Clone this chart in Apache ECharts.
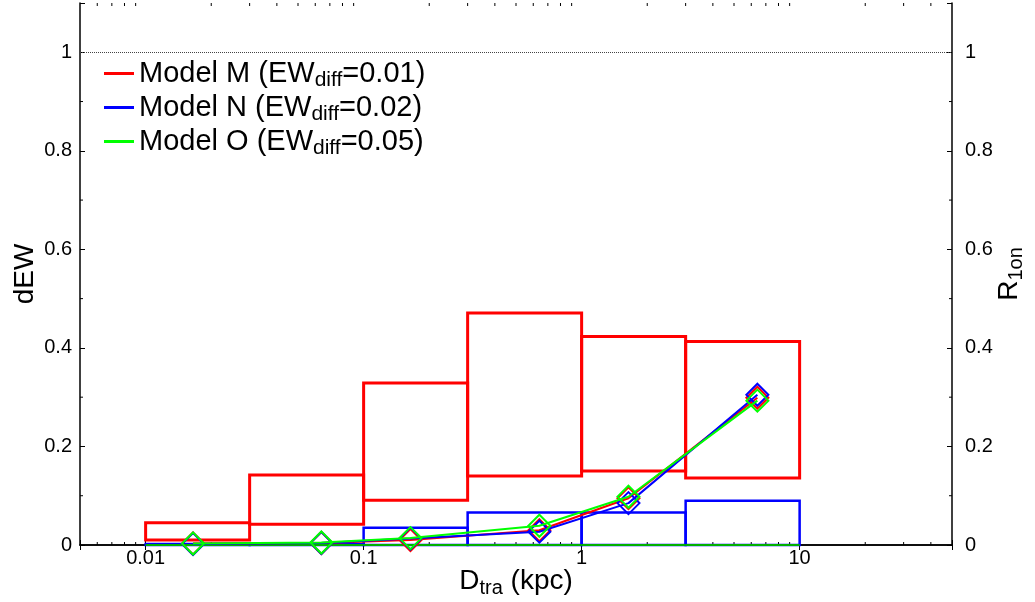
<!DOCTYPE html>
<html>
<head>
<meta charset="utf-8">
<script src="https://cdn.jsdelivr.net/npm/echarts@6/dist/echarts.min.js"></script>
<style>
  html, body { margin: 0; padding: 0; background: #fff; }
  #chart { width: 1035px; height: 602px; }
</style>
</head>
<body>
<div id="chart"></div>
<script>
// bins (kpc)
const binLo = [0.01, 0.03, 0.1, 0.3, 1, 3]
const binHi = [0.03, 0.1, 0.3, 1, 3, 10]

// dEW range boxes per model
const boxMLo = [0.010, 0.042, 0.091, 0.140, 0.150, 0.136]
const boxMHi = [0.045, 0.142, 0.329, 0.471, 0.423, 0.413]
const boxNLo = [0, 0, 0, 0, 0, 0]
const boxNHi = [0.002, 0.002, 0.035, 0.066, 0.066, 0.090]
const boxOLo = [0, 0, 0, 0, 0, 0]
const boxOHi = [0, 0, 0, 0, 0, 0]

// R_1on curves
const xMean = [0.0165, 0.064, 0.164, 0.64, 1.64, 6.4]
const modelM = [0.003, 0.004, 0.010, 0.030, 0.095, 0.299]
const modelN = [0.002, 0.004, 0.013, 0.027, 0.085, 0.305]
const modelO = [0.003, 0.005, 0.014, 0.039, 0.098, 0.293]

const modelNames = ['Model M', 'Model N', 'Model O']
const ewDiff = ['0.01', '0.02', '0.05']
const colors = ['#ff0000', '#0000ff', '#00ff00']

const xTicks = [0.01, 0.1, 1, 10]
const xTickLabels = ['0.01', '0.1', '1', '10']
const xMinorTicks = [0.006, 0.007, 0.008, 0.009,
  0.02, 0.03, 0.04, 0.05, 0.06, 0.07, 0.08, 0.09,
  0.2, 0.3, 0.4, 0.5, 0.6, 0.7, 0.8, 0.9,
  2, 3, 4, 5, 6, 7, 8, 9,
  20, 30, 40]
const yTickLabels = ['0', '0.2', '0.4', '0.6', '0.8', '1']
const yMinorTicks = [0.1, 0.3, 0.5, 0.7, 0.9]

const X_MIN = 0.005, X_MAX = 50, Y_MIN = 0, Y_MAX = 1.1
const FONT = '"Liberation Sans", Arial, Helvetica, sans-serif'

const chart = echarts.init(document.getElementById('chart'), null, { renderer: 'canvas' })

function boxData(lo, hi) {
  return binLo.map((b, i) => [b, binHi[i], lo[i], hi[i]])
}

function boxSeries(lo, hi, color, width) {
  return {
    type: 'custom',
    silent: true,
    z: 3,
    encode: { x: [0, 1], y: [2, 3] },
    data: boxData(lo, hi),
    renderItem: (params, api) => {
      const p0 = api.coord([api.value(0), api.value(2)])
      const p1 = api.coord([api.value(1), api.value(3)])
      return {
        type: 'rect',
        shape: { x: p0[0], y: p1[1], width: p1[0] - p0[0], height: p0[1] - p1[1] },
        style: { fill: 'none', stroke: color, lineWidth: width },
      }
    },
  }
}

function lineSeries(idx, values, width) {
  return {
    name: modelNames[idx],
    type: 'line',
    z: 5 + idx,
    data: xMean.map((x, i) => [x, values[i]]),
    symbol: 'diamond',
    symbolSize: 22,
    lineStyle: { color: colors[idx], width: width },
    itemStyle: { color: 'rgba(0,0,0,0)', borderColor: colors[idx], borderWidth: 2 },
    emphasis: { disabled: true },
  }
}

const tickStyle = { stroke: '#000', lineWidth: 1 }

const xMinorSeries = {
  type: 'custom',
  silent: true,
  z: 1,
  data: xMinorTicks.map((v) => [v, 0]),
  encode: { x: 0, y: 1 },
  renderItem: (params, api) => {
    const v = api.value(0)
    const b = api.coord([v, Y_MIN])
    const t = api.coord([v, Y_MAX])
    return {
      type: 'group',
      children: [
        { type: 'line', shape: { x1: b[0], y1: b[1], x2: b[0], y2: b[1] - 3 }, style: tickStyle },
        { type: 'line', shape: { x1: t[0], y1: t[1], x2: t[0], y2: t[1] + 3 }, style: tickStyle },
      ],
    }
  },
}

const yMinorSeries = {
  type: 'custom',
  silent: true,
  z: 1,
  data: yMinorTicks.map((v) => [1, v]),
  encode: { x: 0, y: 1 },
  renderItem: (params, api) => {
    const v = api.value(1)
    const l = api.coord([X_MIN, v])
    const r = api.coord([X_MAX, v])
    return {
      type: 'group',
      children: [
        { type: 'line', shape: { x1: l[0], y1: l[1], x2: l[0] + 3, y2: l[1] }, style: tickStyle },
        { type: 'line', shape: { x1: r[0], y1: r[1], x2: r[0] - 3, y2: r[1] }, style: tickStyle },
      ],
    }
  },
}

function xLabel(v) {
  const i = xTicks.findIndex((t) => Math.abs(Math.log10(v) - Math.log10(t)) < 1e-6)
  return i >= 0 ? xTickLabels[i] : ''
}

function yLabel(v) {
  const i = Math.round(v / 0.2)
  return Math.abs(v - i * 0.2) < 1e-6 && i < yTickLabels.length ? yTickLabels[i] : ''
}

const axisLine = { lineStyle: { color: '#000', width: 1.5 } }
const majorTick = { inside: true, length: 5, lineStyle: { color: '#000', width: 1 } }
const labelStyle = { color: '#000', fontSize: 20, fontFamily: FONT }
const nameRich = {
  n: { fontSize: 28, fontFamily: FONT, color: '#000', lineHeight: 34 },
  s: { fontSize: 20, fontFamily: FONT, color: '#000', lineHeight: 14, verticalAlign: 'bottom' },
}

const option = {
  animation: false,
  backgroundColor: '#fff',
  grid: { left: 80, right: 83, top: 3, bottom: 57, containLabel: false, outerBoundsMode: 'none' },
  legend: {
    orient: 'vertical',
    left: 104,
    top: 59,
    padding: 0,
    itemGap: 2.5,
    itemWidth: 30,
    itemHeight: 3,
    icon: 'rect',
    selectedMode: false,
    data: modelNames.map((name, i) => ({ name, itemStyle: { color: colors[i], borderWidth: 0 } })),
    formatter: (name) => {
      const i = modelNames.indexOf(name)
      return `{n|${name} (EW}{s|diff}{n|=${ewDiff[i]})}`
    },
    textStyle: {
      rich: {
        n: { fontSize: 29, fontFamily: FONT, color: '#000', lineHeight: 34 },
        s: { fontSize: 21, fontFamily: FONT, color: '#000', lineHeight: 14, verticalAlign: 'bottom' },
      },
    },
  },
  xAxis: [
    {
      type: 'log',
      logBase: 10,
      min: X_MIN,
      max: X_MAX,
      position: 'bottom',
      axisLine,
      axisTick: majorTick,
      axisLabel: { ...labelStyle, margin: 3, formatter: xLabel },
      splitLine: { show: false },
      name: '{n|D}{s|tra}{n| (kpc)}',
      nameLocation: 'middle',
      nameGap: 19,
      nameMoveOverlap: false,
      nameTextStyle: { rich: nameRich },
    },
    {
      type: 'log',
      logBase: 10,
      min: X_MIN,
      max: X_MAX,
      position: 'top',
      axisLine,
      axisTick: majorTick,
      axisLabel: { show: false },
      splitLine: { show: false },
    },
  ],
  yAxis: [
    {
      type: 'value',
      min: Y_MIN,
      max: Y_MAX,
      interval: 0.2,
      position: 'left',
      axisLine: { show: true, ...axisLine },
      axisTick: majorTick,
      axisLabel: { ...labelStyle, margin: 8, formatter: yLabel },
      splitLine: { show: false },
      name: '{n|dEW}',
      nameLocation: 'middle',
      nameRotate: 90,
      nameGap: 38,
      nameMoveOverlap: false,
      nameTextStyle: { rich: nameRich },
    },
    {
      type: 'value',
      min: Y_MIN,
      max: Y_MAX,
      interval: 0.2,
      position: 'right',
      axisLine: { show: true, ...axisLine },
      axisTick: majorTick,
      axisLabel: { ...labelStyle, margin: 13, formatter: yLabel },
      splitLine: { show: false },
      name: '{n|R}{s|1on}',
      nameLocation: 'middle',
      nameRotate: 90,
      nameGap: 40,
      nameMoveOverlap: false,
      nameTextStyle: { rich: nameRich },
    },
  ],
  series: [
    xMinorSeries,
    yMinorSeries,
    boxSeries(boxMLo, boxMHi, colors[0], 3),
    boxSeries(boxNLo, boxNHi, colors[1], 2.5),
    boxSeries(boxOLo, boxOHi, '#00b000', 2),
    {
      ...lineSeries(0, modelM, 2),
      markLine: {
        silent: true,
        symbol: ['none', 'none'],
        label: { show: false },
        lineStyle: { color: '#444', width: 1, type: [1, 1] },
        data: [{ yAxis: 1 }],
      },
    },
    lineSeries(1, modelN, 2),
    lineSeries(2, modelO, 2),
  ],
}

chart.setOption(option)
</script>
</body>
</html>
